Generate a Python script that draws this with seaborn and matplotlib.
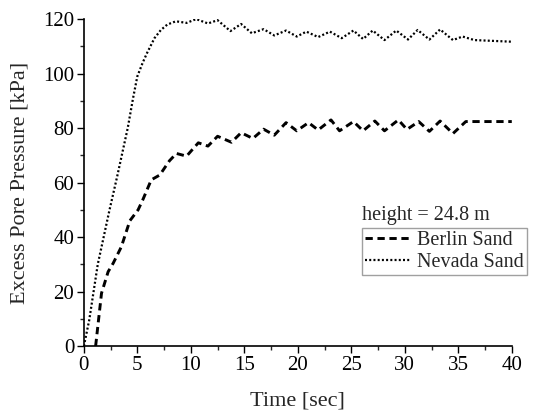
import matplotlib
matplotlib.use("Agg")
import matplotlib.pyplot as plt
import seaborn as sns
import pandas as pd
from matplotlib.ticker import MultipleLocator

# Data
nevada_t = [0, 0.5, 1.3, 2.4, 3.1, 3.6, 4.1, 4.6, 5.0, 5.5, 5.9, 6.6, 7.2, 7.8, 8.6, 9.6, 10.5, 11.6,
            12.5, 13.7, 14.7, 15.7, 16.8, 17.8, 18.9, 19.9, 20.8, 21.9, 23.0, 24.1,
            25.2, 26.1, 27.0, 28.1, 29.2, 30.3, 31.2, 32.3, 33.3, 34.5, 35.4, 36.5, 40]
nevada_v = [0, 9.5, 30, 50, 62, 71, 80, 91, 99, 104, 107.5, 113, 116, 118, 119.2, 118.6, 120, 118.4,
            119.6, 115.6, 118.2, 114.8, 116.3, 114, 115.8, 113.6, 115.4, 113.4, 115.4, 113,
            115.8, 112.7, 115.8, 112.3, 115.8, 112.5, 116, 112.5, 116.2, 112.3, 113.6, 112.3, 111.7]

berlin_t = [1.1, 1.65, 2.27, 2.74, 3.5, 4.3, 5.07, 5.5, 6.3, 7.1, 8.0, 8.65, 9.6, 10.7,
            11.6, 12.5, 13.8, 14.7, 15.8, 16.8, 17.8, 18.9, 19.9, 21.0, 21.9, 23.1, 23.9,
            25.2, 26.1, 27.2, 28.1, 29.4, 30.2, 31.3, 32.3, 33.3, 34.5, 35.7, 40]
berlin_v = [0, 19.4, 27.3, 30.4, 36.4, 46, 50, 53.6, 61, 62.8, 68, 70.7, 69.7, 74.6,
            73.4, 77, 74.8, 78.3, 76.2, 79.6, 77.4, 82, 79, 82, 79.3, 83, 79,
            82.4, 79, 82.6, 79, 83, 79.5, 82.4, 78.8, 82.6, 78, 82.4, 82.4]

series_names = ["Berlin Sand", "Nevada Sand"]
x_ticks = [0, 5, 10, 15, 20, 25, 30, 35, 40]
y_ticks = [0, 20, 40, 60, 80, 100, 120]

df_b = pd.DataFrame({"t": berlin_t, "v": berlin_v})
df_n = pd.DataFrame({"t": nevada_t, "v": nevada_v})

sns.set_style("ticks")
plt.rcParams["font.family"] = ["Liberation Serif", "DejaVu Serif"]
plt.rcParams["font.size"] = 15

fig = plt.figure(figsize=(5.41, 4.15), dpi=100)
ax = fig.add_axes([0.155, 0.166, 0.791, 0.788])

sns.lineplot(data=df_b, x="t", y="v", ax=ax, color="black", linewidth=2.1,
             label=series_names[0], sort=False)
sns.lineplot(data=df_n, x="t", y="v", ax=ax, color="black", linewidth=1.6,
             label=series_names[1], sort=False)
lines = ax.get_lines()
lines[0].set_dashes([2.5, 1.6])
lines[1].set_dashes([0.9, 1.0])

ax.set_xlim(0, 40)
ax.set_ylim(0, 120)
ax.set_xticks(x_ticks)
ax.set_yticks(y_ticks)
ax.xaxis.set_minor_locator(MultipleLocator(2.5))
ax.yaxis.set_minor_locator(MultipleLocator(10))
ax.tick_params(which="major", direction="out", length=5, width=1, labelsize=15,
               colors="black", pad=2)
ax.tick_params(which="minor", direction="out", length=3, width=1)
for s in ["top", "right"]:
    ax.spines[s].set_visible(False)
for s in ["left", "bottom"]:
    ax.spines[s].set_color("black")
    ax.spines[s].set_linewidth(1.2)

ax.set_xlabel("Time [sec]", fontsize=16, labelpad=12)
ax.set_ylabel("Excess Pore Pressure [kPa]", fontsize=16, labelpad=10)

fig.text(362 / 541, 1 - 215 / 415, "height = 24.8 m", fontsize=14.5, va="center", ha="left")
leg = ax.legend(loc="upper left", bbox_to_anchor=(362 / 541, 1 - 228 / 415),
                bbox_transform=fig.transFigure, frameon=True, fancybox=False,
                fontsize=14.5, handlelength=2.3, handletextpad=0.3, borderpad=0.15,
                labelspacing=0.12, borderaxespad=0)
leg.get_frame().set_edgecolor("#888888")
leg.get_frame().set_linewidth(1.0)

fig.savefig("out.png", dpi=100)
